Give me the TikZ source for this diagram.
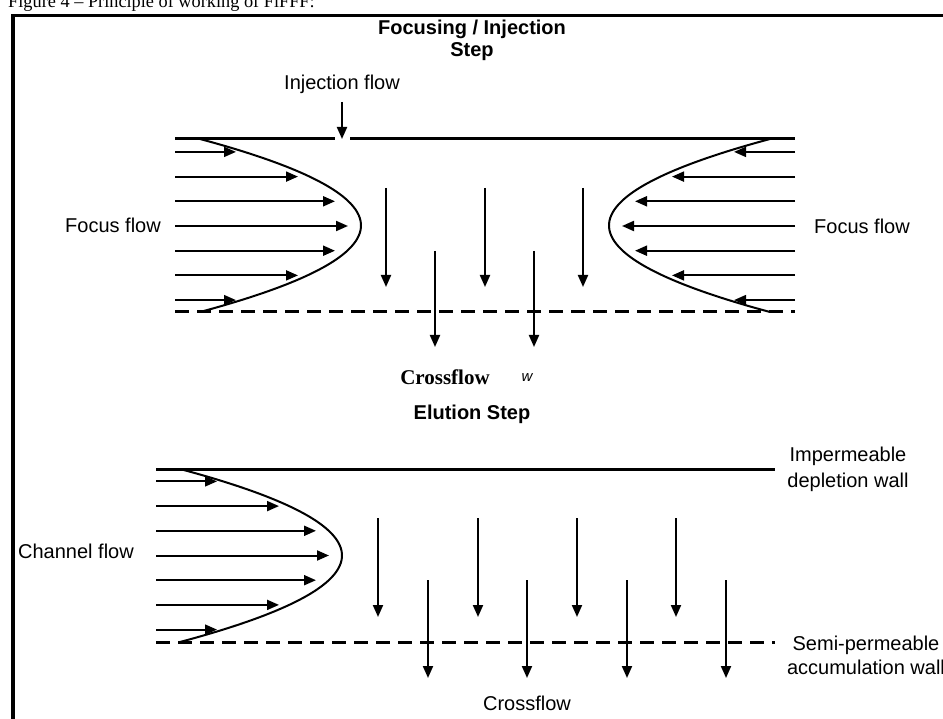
\documentclass[tikz,border=0pt]{standalone}
\usepackage{fontspec}
\setmainfont{Liberation Sans}
\newfontfamily\capfont{Liberation Serif}
\usetikzlibrary{arrows.meta}
\begin{document}
\begin{tikzpicture}[x=1pt,y=-1pt,
  frame/.style={line width=3.5pt},
  wall/.style={line width=3pt},
  porous/.style={line width=3pt, dash pattern=on 14pt off 8pt},
  flow/.style={line width=2pt,-{Triangle[length=12pt,width=10pt]}},
  profile/.style={line width=2pt},
  lbl/.style={font=\fontsize{20}{26}\selectfont, inner sep=0pt, align=center},
  head/.style={font=\fontsize{20}{22}\selectfont\bfseries, inner sep=0pt, align=center}]
\useasboundingbox (0,0) rectangle (943,719);

% caption, partly above the page edge
\node[anchor=base west, inner sep=0pt, font=\capfont\fontsize{18.3}{20}\selectfont] (caption) at (8,7.5)
  {Figure 4 – Principle of working of FlFFF:};

% outer frame
\coordinate (fbl) at (13,725);
\coordinate (ftl) at (13,15.5);
\coordinate (ftr) at (950,15.5);
\draw[frame] (fbl) -- (ftl) -- (ftr);

% ---------------- Focusing / injection step ----------------
\node[head] (title1) at (472,40) {Focusing / Injection\\Step};
\node[lbl] (injlbl) at (342,84) {Injection flow};
\node[lbl] (focusL) at (113,225) {Focus flow};
\node[lbl] (focusR) at (862,226) {Focus flow};
\node[inner sep=0pt, font=\capfont\fontsize{21}{24}\selectfont\bfseries] (cross1) at (445,377) {Crossflow};
\node[inner sep=0pt, font=\fontsize{15}{18}\selectfont\itshape] (wfrag) at (527,378) {w};

% channel walls
\coordinate (w1a) at (175,139);
\coordinate (w1b) at (335,139);
\coordinate (w1c) at (350,139);
\coordinate (w1d) at (795,139);
\coordinate (d1a) at (175,312);
\coordinate (d1b) at (795,312);
\draw[wall] (w1a) -- (w1b);
\draw[wall] (w1c) -- (w1d);
\draw[porous] (d1a) -- (d1b);

% injection inlet
\coordinate (inj0) at (342,102);
\coordinate (inj1) at (342,139);
\draw[flow] (inj0) -- (inj1);

% opposing focus flow profiles
\draw[profile] plot[domain=-1:1,samples=60,smooth] ({200+161*(1-\x*\x)},{225.5+86.5*\x});
\draw[profile] plot[domain=-1:1,samples=60,smooth] ({770-161*(1-\x*\x)},{225.5+86.5*\x});
\foreach \k/\l in {-3/61,-2/123,-1/160,0/173,1/160,2/123,3/61}{
  \coordinate (fl0\k) at (175,{226+24.7*\k});
  \coordinate (fl1\k) at ({175+\l},{226+24.7*\k});
  \draw[flow] (fl0\k) -- (fl1\k);
  \coordinate (fr0\k) at (795,{226+24.7*\k});
  \coordinate (fr1\k) at ({795-\l},{226+24.7*\k});
  \draw[flow] (fr0\k) -- (fr1\k);
}

% crossflow
\foreach \i/\xx in {1/386,2/485,3/583}{
  \coordinate (ca\i) at (\xx,188);
  \coordinate (cb\i) at (\xx,287);
  \draw[flow] (ca\i) -- (cb\i);
}
\foreach \i/\xx in {1/435,2/534}{
  \coordinate (cc\i) at (\xx,251);
  \coordinate (cd\i) at (\xx,347);
  \draw[flow] (cc\i) -- (cd\i);
}

% ---------------- Elution step ----------------
\node[head] (title2) at (472,414) {Elution Step};
\node[lbl] (chanlbl) at (76,551) {Channel flow};
\node[lbl] (imperm) at (848,469) {Impermeable\\depletion wall};
\node[lbl, align=center, font=\fontsize{20}{24}\selectfont] (semip) at (866,655) {Semi-permeable\\accumulation wall};
\node[lbl] (cross2) at (527,703) {Crossflow};

\coordinate (w2a) at (156,469);
\coordinate (w2b) at (775,469);
\coordinate (d2a) at (156,642);
\coordinate (d2b) at (775,642);
\draw[wall] (w2a) -- (w2b);
\draw[porous] (d2a) -- (d2b);

% parabolic channel flow profile
\draw[profile] plot[domain=-1:1,samples=60,smooth] ({180+162*(1-\x*\x)},{555.5+86.5*\x});
\foreach \k/\l in {-3/61,-2/123,-1/160,0/173,1/160,2/123,3/61}{
  \coordinate (cl0\k) at (156,{555.5+24.7*\k});
  \coordinate (cl1\k) at ({156+\l},{555.5+24.7*\k});
  \draw[flow] (cl0\k) -- (cl1\k);
}

% crossflow through the accumulation wall
\foreach \i/\xx in {1/378,2/478,3/577,4/676}{
  \coordinate (ea\i) at (\xx,518);
  \coordinate (eb\i) at (\xx,617);
  \draw[flow] (ea\i) -- (eb\i);
}
\foreach \i/\xx in {1/428,2/527,3/627,4/726}{
  \coordinate (ec\i) at (\xx,580);
  \coordinate (ed\i) at (\xx,678);
  \draw[flow] (ec\i) -- (ed\i);
}
\end{tikzpicture}
\end{document}
